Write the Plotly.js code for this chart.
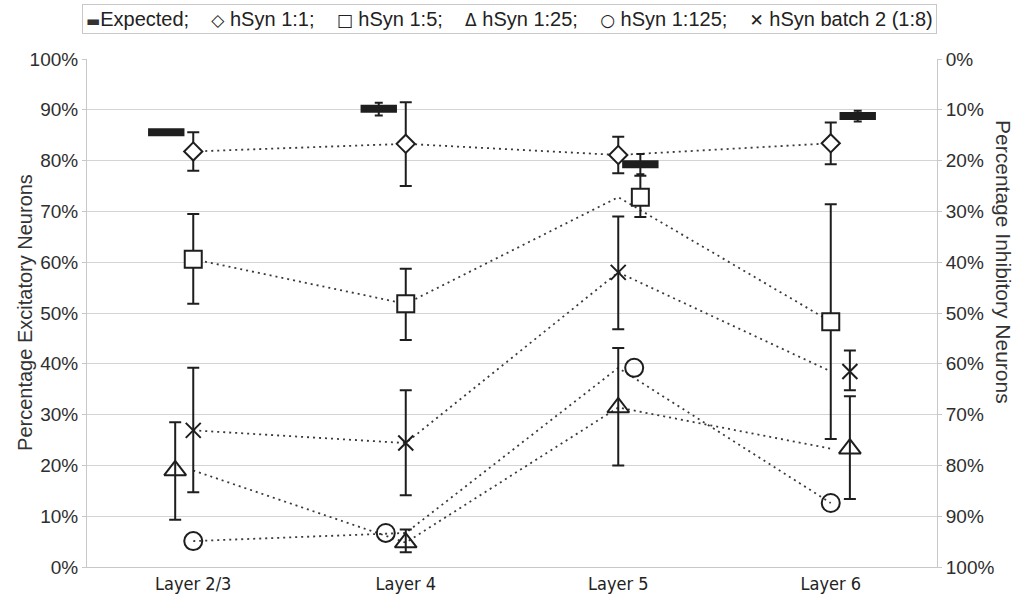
<!DOCTYPE html>
<html>
<head>
<meta charset="utf-8">
<script src="https://cdn.plot.ly/plotly-3.0.1.min.js"></script>
<style>html,body{margin:0;padding:0;background:#fff;}#chart{width:1020px;height:599px;}</style>
</head>
<body>
<div id="chart"></div>
<script>
// ---- data ----
const categories = ["Layer 2/3", "Layer 4", "Layer 5", "Layer 6"];

const expectedVals   = [85.6, 90.2, 79.3, 88.8];
const expectedPlus   = [0.3, 1.2, 2.0, 1.0];
const expectedMinus  = [0.3, 1.3, 2.0, 1.1];

const syn1Vals   = [81.8, 83.3, 81.1, 83.4];
const syn1Top    = [85.6, 91.5, 84.7, 87.5];
const syn1Bottom = [78.0, 75.0, 77.5, 79.3];

const syn5Vals   = [60.6, 51.8, 72.8, 48.3];
const syn5Top    = [69.5, 58.7, 77.0, 71.4];
const syn5Bottom = [51.8, 44.7, 68.9, 25.2];

const syn25Vals   = [19.0, 4.8, 31.4, 23.3];
const syn25Top    = [28.5, 7.4, 43.1, 33.6];
const syn25Bottom = [9.3, 2.9, 20.0, 13.4];

const syn125Vals = [5.1, 6.7, 39.2, 12.6];

const batch2Vals   = [26.9, 24.4, 58.0, 38.5];
const batch2Top    = [39.2, 34.8, 69.0, 42.6];
const batch2Bottom = [14.7, 14.1, 46.8, 34.8];

const yTickVals = [0, 10, 20, 30, 40, 50, 60, 70, 80, 90, 100];
const yTickText = ["0%", "10%", "20%", "30%", "40%", "50%", "60%", "70%", "80%", "90%", "100%"];

const legendNames = ["Expected;", "hSyn 1:1;", "hSyn 1:5;", "hSyn 1:25;", "hSyn 1:125;", "hSyn batch 2 (1:8)"];
const legendGlyphs = ["\u25AC", "\u25C7", "\u25A1", "\u0394", "\u25CB", "\u2715"];

// ---- style: horizontal jitter of markers (category units) ----
const jitterExpected = [-0.127, -0.127, 0.104, 0.127];
const jitterSyn1     = [0, 0, 0, 0];
const jitterSyn5     = [0, 0, 0.104, 0];
const jitterSyn25    = [-0.085, 0, 0, 0.09];
const jitterSyn125   = [0, -0.094, 0.075, 0];
const jitterBatch2   = [0, 0, 0, 0.09];

const ink = "#1e1e1e";
const idx = categories.map((c, i) => i);
const xs = j => idx.map((i) => i + j[i]);
const up = (top, v) => top.map((t, i) => +(t - v[i]).toFixed(2));
const down = (bot, v) => bot.map((b, i) => +(v[i] - b).toFixed(2));

function dotLine(vals) {
  return {x: idx, y: vals, mode: "lines", type: "scatter", showlegend: false, hoverinfo: "skip",
          line: {color: "#3a3a3a", width: 1.8, dash: "2px,4px"}};
}
function errs(top, bot, vals, w) {
  return {type: "data", symmetric: false, array: up(top, vals), arrayminus: down(bot, vals),
          color: ink, thickness: 2, width: w};
}

const traces = [
  dotLine(syn1Vals), dotLine(syn5Vals), dotLine(syn25Vals), dotLine(syn125Vals), dotLine(batch2Vals),
  {x: xs(jitterExpected), y: expectedVals, name: legendNames[0], mode: "markers", type: "scatter",
   marker: {symbol: "line-ew", size: 26, color: ink, line: {color: ink, width: 8}},
   error_y: {type: "data", symmetric: false, array: expectedPlus, arrayminus: expectedMinus, color: ink, thickness: 2, width: 4}},
  {x: xs(jitterSyn1), y: syn1Vals, name: legendNames[1], mode: "markers", type: "scatter",
   marker: {symbol: "diamond", size: 14, color: "#fff", line: {color: ink, width: 2}},
   error_y: errs(syn1Top, syn1Bottom, syn1Vals, 6)},
  {x: xs(jitterSyn5), y: syn5Vals, name: legendNames[2], mode: "markers", type: "scatter",
   marker: {symbol: "square", size: 17, color: "#fff", line: {color: ink, width: 2}},
   error_y: errs(syn5Top, syn5Bottom, syn5Vals, 6)},
  {x: xs(jitterSyn25), y: syn25Vals, name: legendNames[3], mode: "markers", type: "scatter",
   marker: {symbol: "triangle-up-open", size: 19, color: ink, line: {color: ink, width: 2}},
   error_y: errs(syn25Top, syn25Bottom, syn25Vals, 6)},
  {x: xs(jitterSyn125), y: syn125Vals, name: legendNames[4], mode: "markers", type: "scatter",
   marker: {symbol: "circle-open", size: 18, color: ink, line: {color: ink, width: 2}}},
  {x: xs(jitterBatch2), y: batch2Vals, name: legendNames[5], mode: "markers", type: "scatter",
   marker: {symbol: "x-thin-open", size: 15, color: ink, line: {color: ink, width: 2}},
   error_y: errs(batch2Top, batch2Bottom, batch2Vals, 6)},
  {x: [null], y: [null], yaxis: "y2", showlegend: false, hoverinfo: "skip", type: "scatter", mode: "markers"}
];

const sp = "\u00a0";
const legendText = legendNames.map((n, i) =>
  (i === 0 ? '<span style="font-family:DejaVu Sans;font-size:15px;color:#333333">' + legendGlyphs[i] + '</span>'
           : '<span style="font-family:DejaVu Sans;font-size:17px;color:#222222">' + legendGlyphs[i] + '</span>' + sp) + n
).join(sp + sp + sp + sp);

const baseFont = "Liberation Sans, Arial, sans-serif";
const tickFont = {family: baseFont, size: 19, color: "#2e2e2e"};
const layout = {
  width: 1020, height: 599,
  margin: {l: 87, r: 83, t: 59, b: 32},
  paper_bgcolor: "#fff", plot_bgcolor: "#fff",
  showlegend: false,
  xaxis: {range: [-0.5, 3.5], tickvals: idx, ticktext: categories, showgrid: false, zeroline: false,
          showline: true, linecolor: "#c8c8c8", linewidth: 1, ticks: "", fixedrange: true,
          tickfont: {family: "Liberation Sans Narrow, DejaVu Sans Condensed, sans-serif", size: 18, color: "#222"}},
  yaxis: {range: [0, 100], tickvals: yTickVals, ticktext: yTickText, showgrid: true, gridcolor: "#d4d4d4", gridwidth: 1,
          zeroline: false, showline: true, linecolor: "#c8c8c8", ticks: "outside", ticklen: 4, tickcolor: "#c8c8c8",
          tickfont: tickFont, fixedrange: true},
  yaxis2: {range: [100, 0], tickvals: yTickVals, ticktext: yTickText, overlaying: "y", side: "right", anchor: "x",
           showgrid: false, zeroline: false, showline: true, linecolor: "#c8c8c8", ticks: "outside", ticklen: 4,
           tickcolor: "#c8c8c8", tickfont: tickFont, fixedrange: true},
  annotations: [
    {text: legendText, xref: "paper", yref: "paper", x: 0.497, y: 1.079,
     xanchor: "center", yanchor: "middle", showarrow: false,
     bordercolor: "#c8c8c8", borderwidth: 1, borderpad: 3, bgcolor: "#fff",
     font: {family: baseFont, size: 20, color: "#222"}},
    {text: "Percentage Excitatory Neurons", xref: "paper", yref: "paper", x: -0.073, y: 0.502,
     xanchor: "center", yanchor: "middle", textangle: -90, showarrow: false,
     font: {family: baseFont, size: 20, color: "#333"}},
    {text: "Percentage Inhibitory Neurons", xref: "paper", yref: "paper", x: 1.079, y: 0.6,
     xanchor: "center", yanchor: "middle", textangle: 90, showarrow: false,
     font: {family: baseFont, size: 21, color: "#333"}}
  ]
};

Plotly.newPlot("chart", traces, layout, {displayModeBar: false, staticPlot: true});
</script>
</body>
</html>
